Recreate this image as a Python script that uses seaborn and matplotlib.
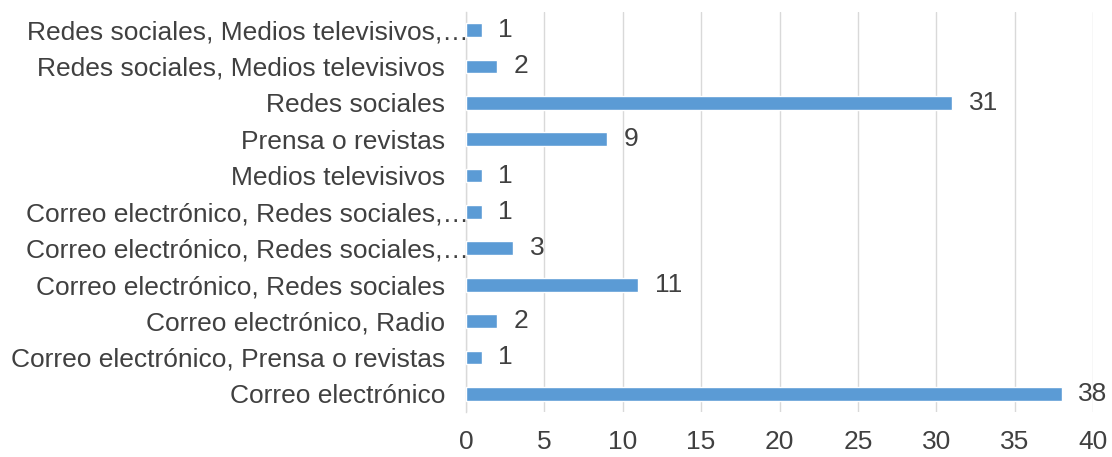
import matplotlib
matplotlib.use("Agg")
import matplotlib.pyplot as plt
import matplotlib.transforms as mtransforms
import seaborn as sns
import pandas as pd
import numpy as np

categories = [
    "Redes sociales, Medios televisivos,\u2026",
    "Redes sociales, Medios televisivos",
    "Redes sociales",
    "Prensa o revistas",
    "Medios televisivos",
    "Correo electrónico, Redes sociales,\u2026",
    "Correo electrónico, Redes sociales,\u2026 ",
    "Correo electrónico, Redes sociales",
    "Correo electrónico, Radio",
    "Correo electrónico, Prensa o revistas",
    "Correo electrónico",
]
counts = [1, 2, 31, 9, 1, 1, 3, 11, 2, 1, 38]
x_ticks = [0, 5, 10, 15, 20, 25, 30, 35, 40]

df = pd.DataFrame({"medio": categories, "n": counts})

sns.set_theme(style="white")
plt.rcParams["font.family"] = ["Liberation Sans", "DejaVu Sans"]

text_color = "#404040"
grid_color = "#d9d9d9"
bar_color = "#5B9BD5"
fs = 19

fig = plt.figure(figsize=(11.12, 4.57), dpi=100)
ax = fig.add_axes([0.419, 0.0985, 0.564, 0.8755])

sns.barplot(data=df, x="n", y="medio", orient="h", color=bar_color,
            width=0.38, saturation=1, ax=ax, zorder=3)

ax.set_xlim(0, 40)
ax.set_ylim(len(categories) - 0.5, -0.5)
ax.set_xticks(x_ticks)
ax.set_xticklabels([str(t) for t in x_ticks], fontsize=fs, color=text_color)
ax.set_yticks(range(len(categories)))
ax.set_yticklabels([c.rstrip() for c in categories], fontsize=fs, color=text_color)
ax.set_xlabel("")
ax.set_ylabel("")

# vertical gridlines
ax.grid(axis="x", color=grid_color, linewidth=1.0, zorder=0)
ax.grid(axis="y", visible=False)

for side in ["top", "right", "bottom"]:
    ax.spines[side].set_visible(False)
ax.spines["left"].set_color(grid_color)
ax.spines["left"].set_linewidth(1.0)

ax.tick_params(axis="x", length=0, pad=13)
ax.tick_params(axis="y", which="major", length=0, pad=15)
# small separators between categories on the value axis
ax.set_yticks(np.arange(-0.5, len(categories), 1), minor=True)
ax.tick_params(axis="y", which="minor", length=5, color=grid_color, width=1.0)

# truncated labels run up to the axis line
shift = mtransforms.ScaledTranslation(0.24, 0, fig.dpi_scale_trans)
for lbl in ax.get_yticklabels():
    if lbl.get_text().endswith("\u2026"):
        lbl.set_transform(lbl.get_transform() + shift)

for i, v in enumerate(counts):
    ax.annotate(str(v), xy=(v, i), xytext=(12, 0), textcoords="offset points",
                va="center", ha="left", fontsize=fs, color=text_color)

fig.savefig("out.png", dpi=100)
